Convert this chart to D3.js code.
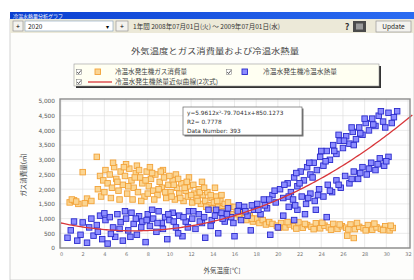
<!DOCTYPE html>
<html>
<head>
<meta charset="utf-8">
<script src="https://cdn.jsdelivr.net/npm/d3@7"></script>
<style>
  body { margin: 0; background: #fff; }
  svg { display: block; font-family: "Noto Sans CJK JP", "Noto Sans", sans-serif; }
</style>
</head>
<body>
<svg id="chart" width="414" height="280"></svg>
<script>
// gas consumption points [outside temp, m3]
var gasPoints = [
  [0.8,1550],[1.2,1620],[1.6,1500],[2.0,2580],[2.4,1680],[2.8,1600],[3.3,3100],[3.6,2450],[3.9,2300],
  [4.1,2650],[4.3,2200],[4.5,2500],[4.7,2050],[4.9,2750],[5.1,2350],[5.3,1950],[5.5,2600],[5.7,2150],
  [5.9,2450],[6.1,1850],[6.3,2700],[6.5,2300],[6.7,2050],[6.9,2550],[7.1,1900],[7.3,2400],[7.5,2200],
  [7.7,1750],[7.9,2600],[8.1,2100],[8.3,2350],[8.5,1950],[8.7,2500],[8.9,1800],[9.1,2250],[9.3,2050],
  [9.5,2400],[9.7,1700],[9.9,2150],[10.1,1900],[10.3,2300],[10.5,1650],[10.7,2050],[10.9,1850],
  [11.1,2200],[11.3,1600],[11.5,1950],[11.7,1750],[11.9,2100],[12.1,1550],[12.3,1850],[12.5,1700],
  [12.7,2000],[12.9,1500],[13.1,1800],[13.3,1600],[13.5,1900],[13.7,1450],[13.9,1700],[14.1,1550],
  [14.3,1750],[14.5,1400],[14.7,1600],[14.9,1350],[15.1,1500],[15.3,1250],[15.6,1400],[15.9,1150],
  [16.2,1300],[16.5,1050],[16.8,1200],[17.1,950],[17.4,1100],[17.7,900],[18.0,1000],[18.3,850],
  [18.6,950],[18.9,800],[19.2,880],
  [4.8,2900],[6.0,2850],[7.0,2800],[8.2,2750],[9.4,2650],[10.6,2500],[11.8,2400],[13.0,2250],[14.2,2050],
  [3.4,2000],[3.7,1750],[4.0,1900],[4.6,1700],[5.2,2250],[5.4,1650],[5.8,2750],[6.2,2100],[6.6,1650],
  [6.8,2400],[7.2,2650],[7.4,1600],[7.8,2300],[8.0,1850],[8.4,2550],[8.6,1650],[9.0,2000],[9.2,2600],
  [9.6,1900],[10.0,2450],[10.2,1750],[10.4,2150],[10.8,2350],[11.0,1700],[11.4,2050],[11.6,2250],
  [12.0,1800],[12.2,2150],[12.6,1600],[12.8,1900],[13.2,2050],[13.4,1400],[13.8,1800],[14.0,1350],
  [14.4,1600],[14.8,1800],[15.0,1250],[15.4,1550],[16.0,1400],[16.4,1150],[17.0,1250],[17.6,1000],
  [1.0,1650],[1.4,1580],[2.2,1520],
  [19.5,820],[19.9,760],[20.3,850],[20.7,700],[21.1,800],[21.5,740],[21.9,870],[22.3,690],[22.7,780],
  [23.1,720],[23.5,840],[23.9,670],[24.3,760],[24.7,700],[25.1,820],[25.5,650],[25.9,740],[26.3,690],
  [26.7,800],[27.1,640],[27.5,720],[27.9,670],[28.3,780],[28.7,620],[29.1,700],[29.5,650],[29.9,740],
  [30.3,600],[30.6,680],[27.0,340],[26.4,420],
  [20.1,690],[20.9,880],[21.7,660],[22.5,820],[23.3,640],[24.1,860],[24.9,620],[25.7,800],[26.5,630],
  [27.3,850],[28.1,600],[28.9,830],[29.7,610],[30.4,760]
];

// heat points [outside temp, value]
var heatPoints = [
  [0.6,350],[1.2,900],[1.5,250],[2.0,870],[2.4,180],[2.8,1000],[3.0,420],[3.3,780],[3.6,1100],[3.8,300],
  [4.1,950],[4.3,150],[4.5,1050],[4.8,700],[5.0,380],[5.2,1150],[5.5,880],[5.7,250],[6.0,1000],[6.2,600],
  [6.5,1200],[6.7,820],[7.0,450],[7.2,1080],[7.5,900],[7.8,200],[8.0,1150],[8.2,750],[8.5,1000],[8.8,550],
  [9.0,1250],[9.3,850],[9.6,1050],[9.8,300],[10.0,950],[10.3,1200],[10.6,700],[10.9,1100],[11.2,400],
  [11.5,900],[11.8,1250],[12.1,1000],[12.4,650],[12.7,1150],[13.0,850],[13.3,350],[13.6,1300],[13.9,950],
  [14.2,1100],[14.5,500],[14.8,1200],[15.1,900],[15.4,1350],[15.7,1050],[16.0,400],[16.3,1250],[16.6,950],
  [16.9,1400],[17.2,1100],[17.5,600],[17.8,1300],[18.1,1500],[18.4,1150],[18.7,1650],[19.0,1350],
  [19.3,450],[19.5,1800],
  [0.9,600],[1.8,450],[2.6,700],[3.4,550],[4.0,1180],[4.6,480],[5.4,650],[5.9,1250],[6.4,380],[6.9,1000],
  [7.4,700],[7.9,950],[8.4,1300],[8.9,850],[9.4,650],[9.9,1150],[10.4,900],[10.8,500],[11.3,1050],
  [11.7,700],[12.2,1250],[12.8,900],[13.2,1050],[13.8,750],[14.3,1300],[14.9,1000],[15.3,1150],
  [15.9,850],[16.4,1450],[17.0,1250],[17.6,1450],[18.2,1300],[18.8,1450],[19.2,1650],[19.7,1950],
  [19.8,1550],[20.2,2000],[20.5,1700],[20.9,2200],[21.2,1900],[21.5,2400],[21.8,2100],[22.1,2600],
  [22.4,2300],[22.7,2750],[23.0,2500],[23.3,2900],[23.6,2650],[23.9,3100],[24.2,2800],[24.5,3300],
  [24.8,3000],[25.1,3500],[25.4,3200],[25.7,3650],[26.0,3400],[26.3,3800],[26.6,3550],[26.9,3950],
  [27.2,3700],[27.5,4100],[27.8,3850],[28.1,4250],[28.4,4000],[28.7,4400],[29.0,4150],[29.3,4500],
  [29.7,4300],[30.2,4600],[30.7,4450],[31.0,4650],
  [20.6,2150],[21.0,1750],[21.7,2550],[22.0,2200],[22.9,2900],[23.2,2400],[24.0,3300],[24.4,2950],
  [25.2,3300],[25.6,3850],[26.1,3650],[26.8,4100],[27.0,3500],[27.6,3900],[28.0,4400],[28.8,4200],
  [29.5,4650],[29.9,4100],[30.5,4250],
  [21.0,1400],[21.4,1650],[21.8,1300],[22.2,1750],[22.6,1500],[23.0,1850],[23.4,1600],[23.8,2000],
  [24.2,1750],[24.6,2150],[25.0,1900],[25.4,2300],[25.8,2050],[26.2,2450],[26.6,2200],[27.0,2600],
  [27.4,2350],[27.8,2750],[28.2,2500],[28.6,2900],[29.0,2650],[29.4,3050],[29.8,2800],[30.2,3100],
  [21.6,1450],[22.8,1700],[23.7,1800],[24.8,1950],[25.6,2150],[26.8,2350],[27.6,2550],[28.4,2700],
  [29.2,2850],[30.0,2950],
  [20.5,1100],[21.5,950],[22.5,1150],[23.5,1300],[24.5,1050],[20.0,700]
];

// quadratic fit: a, b, c
var fitCoef = [5.9612, -79.7041, 850.1273];
var fitR2 = "0.7778";
var dataNumber = 393;

var xTicks = [0,2,4,6,8,10,12,14,16,18,20,22,24,26,28,30,32];
var yTicks = [0,500,1000,1500,2000,2500,3000,3500,4000,4500,5000];

var chartTitle = "外気温度とガス消費量および冷温水熱量";
var legendLabels = ["冷温水発生機ガス消費量", "冷温水発生機冷温水熱量", "冷温水発生機熱量近似曲線(2次式)"];
var xTitle = "外気温度[℃]";
var yTitle = "ガス消費量(㎥)";
var periodText = "1年間  2008年07月01日(火) ～ 2009年07月01日(水)";

var svg = d3.select("#chart");

// window chrome
var defs = svg.append("defs");
var grad = defs.append("linearGradient").attr("id", "bar");
grad.append("stop").attr("offset", "0").attr("stop-color", "#0a3fd0");
grad.append("stop").attr("offset", "1").attr("stop-color", "#2b6cf2");

svg.append("rect").attr("x", 10).attr("y", 19).attr("width", 404).attr("height", 261)
    .attr("fill", "#fdfdfb").attr("stroke", "#c8c8c8").attr("stroke-width", 0.8);
svg.append("rect").attr("x", 10).attr("y", 12).attr("width", 404).attr("height", 7).attr("fill", "url(#bar)");
svg.append("text").attr("x", 13).attr("y", 17.6).attr("font-size", 5).attr("fill", "#fff")
    .text("冷温水熱量分析グラフ");
svg.append("rect").attr("x", 10).attr("y", 19).attr("width", 404).attr("height", 14).attr("fill", "#ece9d8");

// toolbar controls
svg.append("rect").attr("x", 13).attr("y", 21).attr("width", 10).attr("height", 10)
    .attr("fill", "#f4f3ee").attr("stroke", "#8a8a8a").attr("stroke-width", 0.6);
svg.append("text").attr("x", 18).attr("y", 29).attr("font-size", 7).attr("text-anchor", "middle").text("+");
svg.append("rect").attr("x", 25).attr("y", 21).attr("width", 88).attr("height", 10)
    .attr("fill", "#fff").attr("stroke", "#7f9db9").attr("stroke-width", 0.6);
svg.append("text").attr("x", 28).attr("y", 28.7).attr("font-size", 6.5).attr("fill", "#222").text("2020");
svg.append("text").attr("x", 107).attr("y", 28.5).attr("font-size", 6).attr("text-anchor", "middle").text("▾");
svg.append("rect").attr("x", 116).attr("y", 21).attr("width", 12).attr("height", 10)
    .attr("fill", "#f4f3ee").attr("stroke", "#8a8a8a").attr("stroke-width", 0.6);
svg.append("text").attr("x", 122).attr("y", 29).attr("font-size", 7).attr("text-anchor", "middle").text("+");
svg.append("text").attr("x", 133).attr("y", 28.8).attr("font-size", 6.5).attr("fill", "#333")
    .attr("textLength", 147).attr("lengthAdjust", "spacingAndGlyphs").text(periodText);
svg.append("text").attr("x", 347).attr("y", 29.5).attr("font-size", 9).attr("font-weight", "bold")
    .attr("text-anchor", "middle").attr("fill", "#333").text("?");
svg.append("rect").attr("x", 353).attr("y", 21).attr("width", 13).attr("height", 11).attr("fill", "#4a4a4a");
svg.append("rect").attr("x", 356).attr("y", 23.5).attr("width", 7).attr("height", 6).attr("fill", "#9a9a9a");
svg.append("rect").attr("x", 376).attr("y", 21).attr("width", 35).attr("height", 11)
    .attr("fill", "#f4f3ee").attr("stroke", "#8a8a8a").attr("stroke-width", 0.6);
svg.append("text").attr("x", 393.5).attr("y", 29).attr("font-size", 6.5).attr("text-anchor", "middle")
    .attr("fill", "#222").text("Update");

// chart title
svg.append("text").attr("x", 215).attr("y", 54).attr("font-size", 7.5).attr("text-anchor", "middle")
    .attr("fill", "#444").attr("textLength", 168).attr("lengthAdjust", "spacingAndGlyphs").text(chartTitle);

// plot area
var plot = {left: 60, right: 410, top: 99, bottom: 248};
var x = d3.scaleLinear().domain([0, 32]).range([61, 408]);
var y = d3.scaleLinear().domain([0, 5000]).range([plot.bottom, 101]);

svg.append("rect").attr("x", plot.left).attr("y", plot.top)
    .attr("width", plot.right - plot.left).attr("height", plot.bottom - plot.top).attr("fill", "#fff");

var grid = svg.append("g").attr("stroke", "#dcdcdc").attr("stroke-width", 0.6);
grid.selectAll("line.v").data(xTicks).enter().append("line")
    .attr("x1", function (d) { return x(d); }).attr("x2", function (d) { return x(d); })
    .attr("y1", plot.top).attr("y2", plot.bottom);
grid.selectAll("line.h").data(yTicks).enter().append("line")
    .attr("y1", function (d) { return y(d); }).attr("y2", function (d) { return y(d); })
    .attr("x1", plot.left).attr("x2", plot.right);

// axes (labels only)
var yAxis = d3.axisLeft(y).tickValues(yTicks).tickSize(0).tickPadding(5).tickFormat(d3.format(","));
var gy = svg.append("g").attr("transform", "translate(" + plot.left + ",0)").call(yAxis);
gy.select(".domain").remove();
gy.selectAll("text").attr("font-size", 5.8).attr("fill", "#555").attr("font-family", "DejaVu Sans");

var xAxis = d3.axisBottom(x).tickValues(xTicks).tickSize(0).tickPadding(4);
var gx = svg.append("g").attr("transform", "translate(0," + plot.bottom + ")").call(xAxis);
gx.select(".domain").remove();
gx.selectAll("text").attr("font-size", 5).attr("fill", "#777").attr("font-family", "DejaVu Sans");

svg.append("text").attr("transform", "translate(26,175) rotate(-90)").attr("text-anchor", "middle")
    .attr("font-size", 6.5).attr("fill", "#444").text(yTitle);
svg.append("text").attr("x", 222).attr("y", 273).attr("text-anchor", "middle")
    .attr("font-size", 6.5).attr("fill", "#444").text(xTitle);

// points
var m = 5.5;
svg.append("g").selectAll("rect").data(gasPoints).enter().append("rect")
    .attr("x", function (d) { return x(d[0]) - m / 2; })
    .attr("y", function (d) { return y(d[1]) - m / 2; })
    .attr("width", m).attr("height", m)
    .attr("fill", "#fbd592").attr("stroke", "#f2a238").attr("stroke-width", 0.9);

svg.append("g").selectAll("rect").data(heatPoints).enter().append("rect")
    .attr("x", function (d) { return x(d[0]) - m / 2; })
    .attr("y", function (d) { return y(d[1]) - m / 2; })
    .attr("width", m).attr("height", m)
    .attr("fill", "#8c8cff").attr("stroke", "#2a2acc").attr("stroke-width", 0.9);

// fitted curve
var curveX = d3.range(0, 32.41, 0.2);
var fit = function (t) { return fitCoef[0] * t * t + fitCoef[1] * t + fitCoef[2]; };
svg.append("path").datum(curveX)
    .attr("d", d3.line().x(function (t) { return x(t); }).y(function (t) { return y(fit(t)); }))
    .attr("fill", "none").attr("stroke", "#d8363a").attr("stroke-width", 1.3);

// frame
svg.append("rect").attr("x", plot.left).attr("y", plot.top)
    .attr("width", plot.right - plot.left).attr("height", plot.bottom - plot.top)
    .attr("fill", "none").attr("stroke", "#8c8c8c").attr("stroke-width", 1.4);

// equation box
var eq = svg.append("g").attr("transform", "translate(183,107)");
eq.append("rect").attr("x", 1.5).attr("y", 1.5).attr("width", 119).attr("height", 28).attr("fill", "#777");
eq.append("rect").attr("width", 119).attr("height", 28).attr("fill", "#fff").attr("stroke", "#666").attr("stroke-width", 0.7);
var eqLines = [
  "y=" + fitCoef[0].toFixed(4) + "x²" + fitCoef[1].toFixed(4) + "x+" + fitCoef[2].toFixed(4),
  "R2= " + fitR2,
  "Data Number: " + dataNumber
];
eq.selectAll("text").data(eqLines).enter().append("text")
    .attr("x", 4).attr("y", function (d, i) { return 7.5 + i * 9; })
    .attr("font-size", 5.8).attr("fill", "#333").attr("font-family", "DejaVu Sans")
    .text(function (d) { return d; });

// legend
var lg = svg.append("g");
lg.append("rect").attr("x", 76).attr("y", 66).attr("width", 305).attr("height", 22).attr("fill", "#333");
lg.append("rect").attr("x", 74).attr("y", 64).attr("width", 305).attr("height", 22)
    .attr("fill", "#fffff2").attr("stroke", "#999").attr("stroke-width", 0.6);

function checkbox(cx, cy) {
  lg.append("rect").attr("x", cx - 2.5).attr("y", cy - 2.5).attr("width", 5).attr("height", 5)
      .attr("fill", "#fff").attr("stroke", "#777").attr("stroke-width", 0.5);
  lg.append("path").attr("d", "M" + (cx - 1.8) + "," + cy + " l1.4,1.6 l2.4,-3.2")
      .attr("fill", "none").attr("stroke", "#333").attr("stroke-width", 0.8);
}
checkbox(79, 72);
checkbox(229, 72);
checkbox(79, 82);
lg.append("rect").attr("x", 95).attr("y", 69).attr("width", m).attr("height", m)
    .attr("fill", "#fbd592").attr("stroke", "#f2a238").attr("stroke-width", 0.9);
lg.append("rect").attr("x", 242).attr("y", 69).attr("width", m).attr("height", m)
    .attr("fill", "#8c8cff").attr("stroke", "#2a2acc").attr("stroke-width", 0.9);
lg.append("line").attr("x1", 88).attr("x2", 112).attr("y1", 82).attr("y2", 82)
    .attr("stroke", "#d8363a").attr("stroke-width", 1.3);
var legendPos = [[115, 74.3, 72], [263, 74.3, 74], [115, 84.3, 103]];
legendPos.forEach(function (p, i) {
  lg.append("text").attr("x", p[0]).attr("y", p[1]).attr("font-size", 6.3).attr("fill", "#444")
      .attr("textLength", p[2]).attr("lengthAdjust", "spacingAndGlyphs").text(legendLabels[i]);
});
</script>
</body>
</html>
